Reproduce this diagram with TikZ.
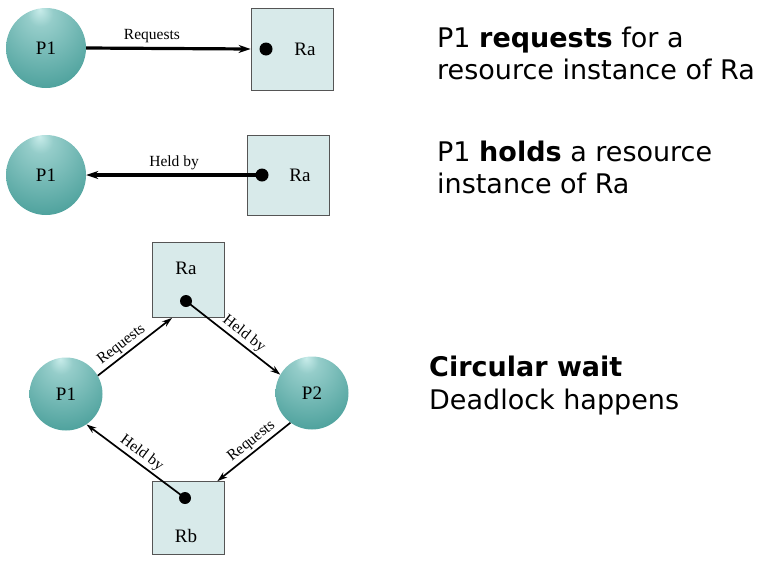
\documentclass[tikz,border=0pt]{standalone}
\usepackage{fontspec}
\setmainfont{Liberation Serif}
\newfontfamily\slidefont{DejaVu Sans}
\usetikzlibrary{arrows.meta}

\definecolor{ballhi}{RGB}{200,236,234}
\definecolor{ballmid}{RGB}{72,158,153}
\definecolor{balledge}{RGB}{28,112,108}
\definecolor{resfill}{RGB}{216,234,234}
\definecolor{resdraw}{RGB}{85,85,85}
\pgfdeclareradialshading{procshade}{\pgfpoint{-4bp}{24bp}}{color(0bp)=(ballhi); color(8bp)=(ballhi!60!ballmid); color(40bp)=(ballmid); color(74bp)=(balledge)}

\begin{document}
\begin{tikzpicture}[x=1pt,y=-1pt]
\tikzstyle{proc}=[circle,shading=procshade,minimum size=80pt,inner sep=0pt,font=\fontsize{19}{19}\selectfont];
\tikzstyle{res}=[rectangle,draw=resdraw,fill=resfill,line width=0.8pt,inner sep=0pt];
\tikzstyle{reslbl}=[font=\fontsize{19}{19}\selectfont];
\tikzstyle{inst}=[circle,fill=black,minimum size=13pt,inner sep=0pt];
\tikzstyle{edge}=[line width=3.2pt,-{Stealth[length=12pt,width=8pt]}];
\tikzstyle{thinedge}=[line width=1.7pt,-{Stealth[length=10pt,width=6.5pt]}];
\tikzstyle{lbl}=[font=\fontsize{15.5}{15.5}\selectfont,inner sep=2pt];
\tikzstyle{say}=[anchor=base west,inner sep=0pt,font=\slidefont\fontsize{27}{32}\selectfont];
\useasboundingbox (0,0) rectangle (762,560);

% P1 requests Ra
\node[proc] (p1a) at (46,48) {P1};
\node[res,minimum width=82pt,minimum height=82pt] (raa) at (292,49) {};
\node[inst] (da) at (266,49) {};
\node[reslbl] (raalbl) at (305,49) {Ra};
\draw[edge] (p1a.east) -- (raa.west) node[lbl,pos=0.4,above=2pt] {Requests};

% P1 holds Ra
\node[proc] (p1b) at (46,175) {P1};
\node[res,minimum width=82pt,minimum height=80pt] (rab) at (288,175) {};
\node[inst] (db) at (262,175) {};
\node[reslbl] (rablbl) at (300,175) {Ra};
\draw[edge] (db.center) -- (p1b.east) node[lbl,midway,above=2pt] {Held by};

% circular wait
\node[proc,minimum size=73pt] (p1c) at (66,394) {P1};
\node[proc,minimum size=73pt] (p2c) at (312,393) {P2};
\node[res,minimum width=72pt,minimum height=75pt] (rac) at (188,280) {};
\node[reslbl] (raclbl) at (186,268) {Ra};
\node[inst,minimum size=12pt] (dra) at (186,301) {};
\node[res,minimum width=72pt,minimum height=73pt] (rbc) at (188,518) {};
\node[reslbl] (rbclbl) at (186,536) {Rb};
\node[inst,minimum size=12pt] (drb) at (185,498) {};
\draw[thinedge] (p1c.30) -- ([xshift=-16pt]rac.south) node[lbl,pos=0.4,above,sloped] {Requests};
\draw[thinedge] (dra.center) -- (p2c.150) node[lbl,pos=0.55,above,sloped] {Held by};
\draw[thinedge] (p2c.234) -- ([xshift=-7pt]rbc.north east) node[lbl,pos=0.45,above,sloped] {Requests};
\draw[thinedge] (drb.center) -- (p1c.304) node[lbl,midway,above,sloped] {Held by};

% slide text
\node[say] (t1) at (437,47) {P1 \textbf{requests} for a};
\node[say] (t2) at (437,79) {resource instance of Ra};
\node[say] (t3) at (437,161) {P1 \textbf{holds} a resource};
\node[say] (t4) at (437,193) {instance of Ra};
\node[say] (t5) at (429,376) {\textbf{Circular wait}};
\node[say] (t6) at (429,409) {Deadlock happens};
\end{tikzpicture}
\end{document}
